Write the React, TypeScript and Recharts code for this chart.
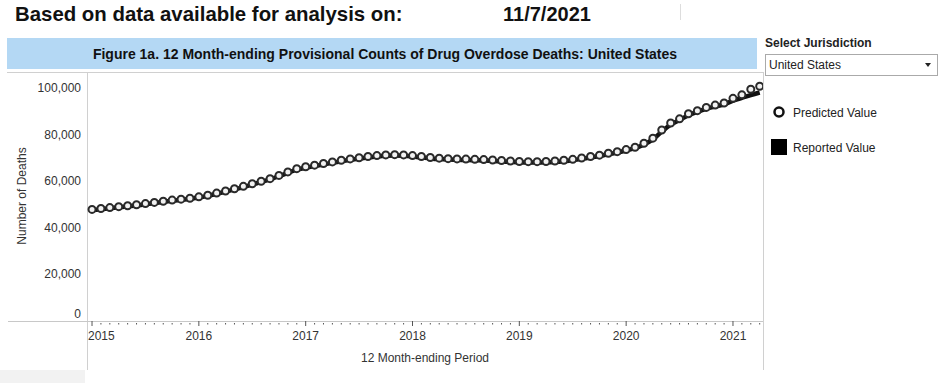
import React from "react"
import {
  ComposedChart,
  Line,
  XAxis,
  YAxis,
} from "recharts"

const startYear = 2015

// 12 month-ending counts, monthly from Jan 2015 to Apr 2021
const predicted = [
  47900, 48300, 48700, 49100, 49500, 49900, 50400, 50900, 51400, 51900, 52300, 52700,
  53300, 54000, 54900, 55800, 56800, 57800, 58900, 60000, 61100, 62500, 64000, 65400,
  66200, 66900, 67600, 68300, 69000, 69600, 70100, 70600, 71000, 71300, 71400, 71300,
  71000, 70600, 70200, 69900, 69700, 69600, 69500, 69400, 69300, 69100, 68900, 68700,
  68500, 68400, 68400, 68500, 68700, 69000, 69400, 70000, 70600, 71200, 72000, 72700,
  73600, 74600, 76300, 78500, 82000, 85000, 86800, 89000, 90300, 91700, 92700, 93600,
  95600, 97100, 99500, 100800,
]

const reported = [
  47600, 48000, 48400, 48800, 49200, 49600, 50100, 50600, 51100, 51600, 52000, 52400,
  53000, 53700, 54600, 55500, 56500, 57500, 58600, 59700, 60800, 62200, 63600, 65000,
  65800, 66500, 67200, 67900, 68600, 69200, 69700, 70200, 70600, 70900, 71000, 70900,
  70600, 70200, 69800, 69500, 69300, 69200, 69100, 69000, 68900, 68700, 68500, 68300,
  68100, 68000, 68000, 68100, 68300, 68600, 69000, 69600, 70200, 70800, 71600, 72300,
  73200, 74200, 75800, 78000, 81300, 84300, 86300, 88300, 89800, 91100, 92100, 93000,
  94600, 95800, 97000, 98100,
]

const yearTicks = [2015, 2016, 2017, 2018, 2019, 2020, 2021]
const yTicks = [0, 20000, 40000, 60000, 80000, 100000]

const data = predicted.map((p, i) => ({
  t: startYear + i / 12,
  predicted: p,
  reported: reported[i],
}))
const monthTicks = data.map((d) => d.t)

const font = "Arial, 'Liberation Sans', sans-serif"
const AXIS_Y = 321

function XTick(props: any) {
  const { x, payload } = props
  const v = payload.value
  const isYear = Math.abs(v - Math.round(v)) < 1e-6
  if (!isYear) {
    return <rect x={x - 0.5} y={AXIS_Y + 2} width={1} height={1.5} fill="#555" />
  }
  const first = Math.round(v) === yearTicks[0]
  return (
    <g>
      <line x1={x} x2={x} y1={AXIS_Y} y2={AXIS_Y + 5} stroke="#555" strokeWidth={1} />
      <text
        x={first ? x - 4 : x}
        y={336}
        textAnchor={first ? "start" : "middle"}
        dominantBaseline="central"
        fontSize={12}
        fontFamily={font}
        fill="#333"
      >
        {Math.round(v)}
      </text>
    </g>
  )
}

function YTick(props: any) {
  const { y, payload } = props
  const v = payload.value
  return (
    <text
      x={81}
      y={v === 0 ? y - 7 : y}
      textAnchor="end"
      dominantBaseline="central"
      fontSize={12}
      fontFamily={font}
      fill="#333"
    >
      {v.toLocaleString("en-US")}
    </text>
  )
}

export default function App() {
  return (
    <div
      style={{
        position: "absolute",
        left: 0,
        top: 0,
        width: 942,
        height: 383,
        background: "#fff",
        overflow: "hidden",
        fontFamily: font,
      }}
    >
      <svg width={942} height={383} style={{ position: "absolute", left: 0, top: 0 }}>
        <text x={15} y={14} dominantBaseline="central" fontSize={20.4} fontWeight="bold" fill="#111" fontFamily={font}>
          Based on data available for analysis on:
        </text>
        <text x={503} y={14} dominantBaseline="central" fontSize={20} fontWeight="bold" fill="#111" fontFamily={font}>
          11/7/2021
        </text>
        <line x1={680.5} x2={680.5} y1={4} y2={20} stroke="#ddd" />

        <rect x={7} y={38} width={750} height={31} fill="#b4d8f4" />
        <text x={385} y={54} textAnchor="middle" dominantBaseline="central" fontSize={14} fontWeight="bold" fill="#111" fontFamily={font}>
          Figure 1a. 12 Month-ending Provisional Counts of Drug Overdose Deaths: United States
        </text>

        <text x={765} y={43} dominantBaseline="central" fontSize={12} fontWeight="bold" fill="#222" fontFamily={font}>
          Select Jurisdiction
        </text>
        <rect x={765.5} y={54.5} width={172} height={21} fill="#fff" stroke="#aaa" />
        <text x={769} y={65} dominantBaseline="central" fontSize={12} fill="#222" fontFamily={font}>
          United States
        </text>
        <path d="M925 63 L931 63 L928 67 Z" fill="#222" />

        <circle cx={779} cy={112} r={4.5} fill="#fff" stroke="#111" strokeWidth={2.5} />
        <text x={793} y={113} dominantBaseline="central" fontSize={12} fill="#222" fontFamily={font}>
          Predicted Value
        </text>
        <rect x={771} y={139} width={16} height={16} fill="#000" />
        <text x={793} y={148} dominantBaseline="central" fontSize={12} fill="#222" fontFamily={font}>
          Reported Value
        </text>

        <line x1={7} x2={763} y1={72.5} y2={72.5} stroke="#d0d0d0" />
        <line x1={87.5} x2={87.5} y1={72} y2={370} stroke="#d0d0d0" />
        <line x1={763.5} x2={763.5} y1={72} y2={370} stroke="#d0d0d0" />
        <line x1={8} x2={763} y1={AXIS_Y + 0.5} y2={AXIS_Y + 0.5} stroke="#c8c8c8" />
        <rect x={0} y={370} width={85} height={13} fill="#f2f2f2" />

        <text
          x={22}
          y={196}
          transform="rotate(-90 22 196)"
          textAnchor="middle"
          dominantBaseline="central"
          fontSize={12}
          fill="#333"
          fontFamily={font}
        >
          Number of Deaths
        </text>
        <text x={425} y={358} textAnchor="middle" dominantBaseline="central" fontSize={12} fill="#333" fontFamily={font}>
          12 Month-ending Period
        </text>
      </svg>

      <div style={{ position: "absolute", left: 0, top: 0 }}>
        <ComposedChart
          width={942}
          height={383}
          data={data}
          margin={{ top: 72, right: 179, bottom: 0, left: 8 }}
        >
          <XAxis
            dataKey="t"
            type="number"
            domain={[2014.953, 2021.281]}
            ticks={monthTicks}
            interval={0}
            tick={<XTick />}
            tickLine={false}
            axisLine={false}
            tickSize={0}
            tickMargin={0}
            height={62}
            allowDataOverflow
          />
          <YAxis
            type="number"
            domain={[0, 106900]}
            ticks={yTicks}
            tick={<YTick />}
            tickLine={false}
            axisLine={false}
            width={79}
            allowDataOverflow
          />
          <Line
            dataKey="reported"
            type="monotone"
            stroke="#111"
            strokeWidth={4.5}
            dot={false}
            activeDot={false}
            isAnimationActive={false}
          />
          <Line
            dataKey="predicted"
            type="monotone"
            stroke="none"
            dot={{ r: 3.5, fill: "#f2f2f2", stroke: "#2a2a2a", strokeWidth: 2 }}
            activeDot={false}
            isAnimationActive={false}
          />
        </ComposedChart>
      </div>
    </div>
  )
}
